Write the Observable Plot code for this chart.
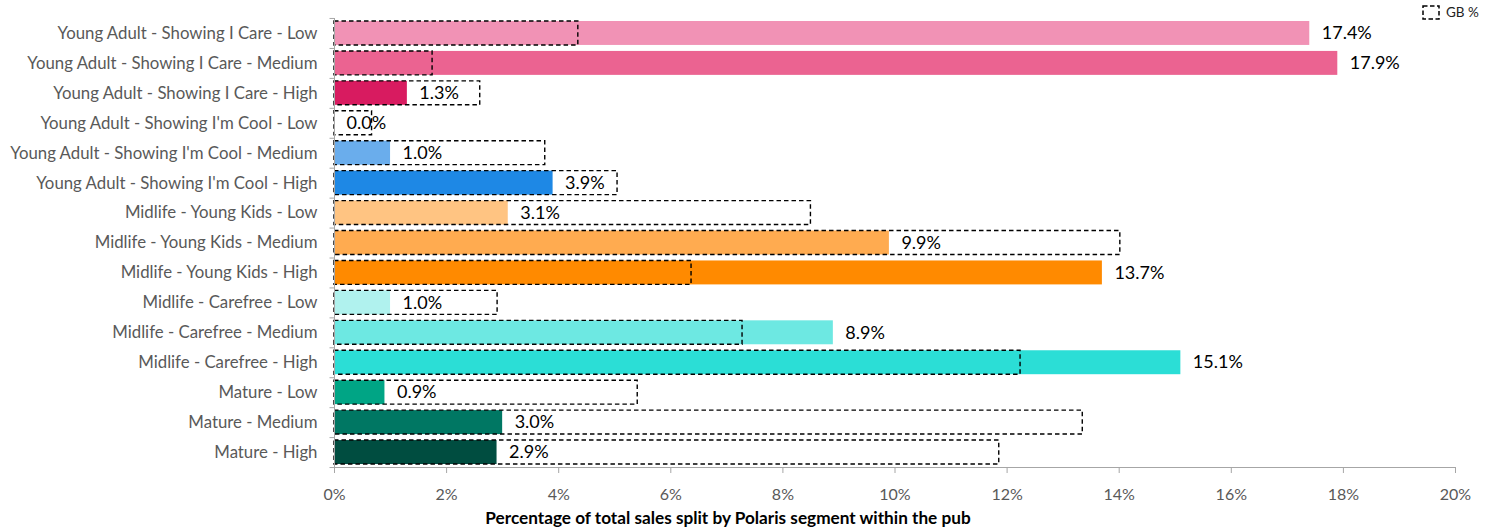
<!DOCTYPE html>
<html><head><meta charset="utf-8">
<script src="https://cdn.jsdelivr.net/npm/d3@7"></script>
<script src="https://cdn.jsdelivr.net/npm/@observablehq/plot@0.6"></script>
<style>
body{margin:0;background:#fff;font-family:Lato,"Open Sans",sans-serif;}
#wrap{position:relative;width:1499px;height:531px;}
#legend{position:absolute;left:1422px;top:4px;font-size:13.5px;color:#222;display:flex;align-items:center;gap:5px;}
#xtitle{position:absolute;left:0;width:1456px;top:507px;text-align:center;font-weight:bold;font-size:17.2px;color:#000;}
</style>
</head><body>
<div id="wrap">
<div id="chart"></div>
<div id="legend"><svg width="19" height="15"><rect x="1" y="1" width="16" height="13" fill="none" stroke="#000" stroke-width="1.5" stroke-dasharray="4.5,2.5"/></svg><span>GB %</span></div>
<div id="xtitle">Percentage of total sales split by Polaris segment within the pub</div>
</div>
<script>
const categories = [
  "Young Adult - Showing I Care - Low",
  "Young Adult - Showing I Care - Medium",
  "Young Adult - Showing I Care - High",
  "Young Adult - Showing I'm Cool - Low",
  "Young Adult - Showing I'm Cool - Medium",
  "Young Adult - Showing I'm Cool - High",
  "Midlife - Young Kids - Low",
  "Midlife - Young Kids - Medium",
  "Midlife - Young Kids - High",
  "Midlife - Carefree - Low",
  "Midlife - Carefree - Medium",
  "Midlife - Carefree - High",
  "Mature - Low",
  "Mature - Medium",
  "Mature - High"
];
const pubValues = [17.4, 17.9, 1.3, 0.0, 1.0, 3.9, 3.1, 9.9, 13.7, 1.0, 8.9, 15.1, 0.9, 3.0, 2.9];
const gbValues  = [4.35, 1.75, 2.6, 0.67, 3.76, 5.05, 8.5, 14.02, 6.37, 2.91, 7.28, 12.24, 5.41, 13.35, 11.86];
const barColors = ["#F192B5", "#EB6391", "#D81B60", "#B3D4F5", "#6AADEC", "#1E88E5",
                   "#FFC482", "#FFAB50", "#FF8A00", "#B0F2EE", "#6DE8E2", "#2BDED6",
                   "#00A585", "#007763", "#004D40"];
const xTicks = [0, 2, 4, 6, 8, 10, 12, 14, 16, 18, 20];

const data = categories.map((c, i) => ({category: c, value: pubValues[i], gb: gbValues[i], color: barColors[i]}));

const chart = Plot.plot({
  width: 1499, height: 531,
  marginLeft: 334, marginRight: 44, marginTop: 18, marginBottom: 64,
  style: {fontFamily: "Lato, 'Open Sans', sans-serif", background: "white"},
  x: {domain: [0, 20]},
  y: {domain: categories, paddingInner: 0.2, paddingOuter: 0.1, round: false},
  marks: [
    Plot.barX(data, {y: "category", x: "value", fill: d => d.color}),
    Plot.barX(data, {y: "category", x: "gb", fill: "none", stroke: "#000", strokeWidth: 1.4, strokeDasharray: "4.5,3"}),
    Plot.text(data, {y: "category", x: "value", text: d => d.value.toFixed(1) + "%", dx: 12, textAnchor: "start", fontSize: 18, fill: "#000"}),
    Plot.frame({anchor: "left", stroke: "#a6a6a6"}),
    Plot.frame({anchor: "bottom", stroke: "#a6a6a6"}),
    Plot.ruleY(categories, {y: d => d, x1: -0.08, x2: 0, dy: 15, stroke: "#a6a6a6"}),
    Plot.ruleY(categories.slice(0, 1), {y: d => d, x1: -0.08, x2: 0, dy: -15, stroke: "#a6a6a6"}),
    Plot.axisX({ticks: xTicks, tickFormat: d => d + "%", tickSize: 6, tickPadding: 15, fontSize: 16, fill: "#595959", stroke: "#a6a6a6", label: null}),
    Plot.axisY({tickSize: 0, tickPadding: 17, fontSize: 16.8, fill: "#595959", label: null})
  ]
});
document.getElementById("chart").appendChild(chart);
</script>
</body></html>
